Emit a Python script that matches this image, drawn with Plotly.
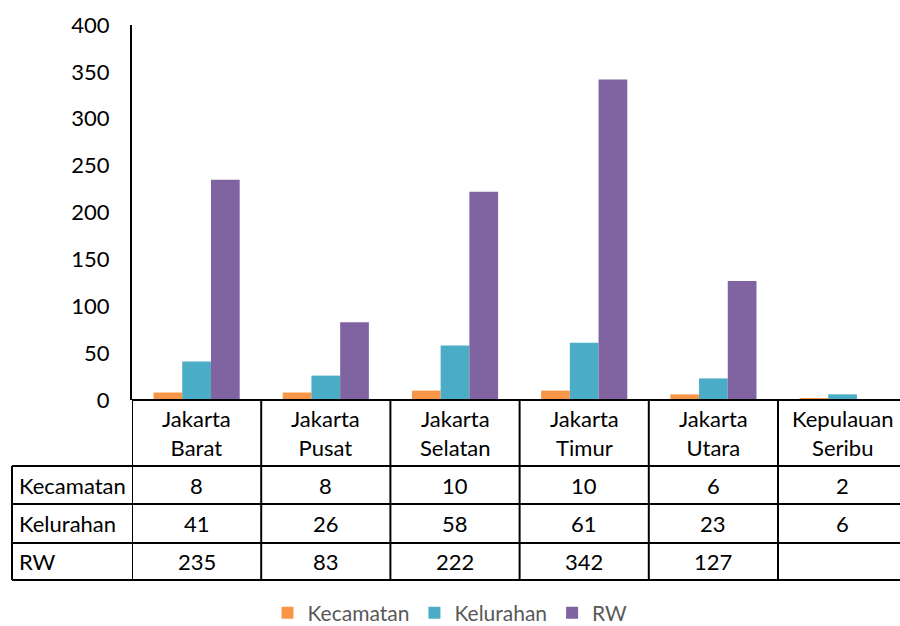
import plotly.graph_objects as go

# Administrative units of DKI Jakarta by city / regency
categories = ["Jakarta Barat", "Jakarta Pusat", "Jakarta Selatan",
              "Jakarta Timur", "Jakarta Utara", "Kepulauan Seribu"]
series_names = ["Kecamatan", "Kelurahan", "RW"]
kecamatan = [8, 8, 10, 10, 6, 2]
kelurahan = [41, 26, 58, 61, 23, 6]
rw = [235, 83, 222, 342, 127, None]
y_ticks = [0, 50, 100, 150, 200, 250, 300, 350, 400]

colors = ["#F79646", "#4BACC6", "#8064A2"]
FONT = "Lato"
FS = 22
W, H = 900, 626


def px_x(p):
    return p / W


def px_y(p):
    return 1 - p / H


xs = list(range(len(categories)))
fig = go.Figure()
for name, vals, col in zip(series_names, [kecamatan, kelurahan, rw], colors):
    fig.add_trace(go.Bar(x=xs, y=vals, name=name, marker_color=col,
                         marker_line_width=0))

# plot area: left edge 132px, top 25px, baseline 400px; right side runs off the page
col_px = 129.2
x_lo = -0.5
x_hi = x_lo + (W - 132) / col_px

fig.update_layout(
    width=W, height=H,
    margin=dict(l=0, r=0, t=0, b=0, autoexpand=False),
    paper_bgcolor="white", plot_bgcolor="white",
    barmode="group", bargap=0.333, bargroupgap=0,
    font=dict(family=FONT, size=FS, color="black"),
    showlegend=True,
    legend=dict(orientation="h", x=0.5, xanchor="center",
                yref="container", y=px_y(613), yanchor="middle",
                font=dict(family=FONT, size=21, color="#595959"),
                itemwidth=30, tracegroupgap=0),
    xaxis=dict(domain=[px_x(132), 1], range=[x_lo, x_hi],
               showticklabels=False, showgrid=False, zeroline=False,
               showline=False, ticks=""),
    yaxis=dict(domain=[px_y(400), px_y(25)], range=[0, 400],
               tickvals=y_ticks, ticktext=[str(v) for v in y_ticks],
               showgrid=False, zeroline=False, ticks="",
               showline=True, linecolor="black", linewidth=2,
               ticklabelstandoff=16,
               tickfont=dict(family=FONT, size=FS, color="black")),
)

# data table under the chart
line = dict(color="black", width=2)
shapes = []
row_edges = [400, 466, 504, 543, 580]
right = len(categories) - 0.5
for i, py in enumerate(row_edges):
    if i > 0:
        shapes.append(dict(type="line", xref="paper", yref="paper",
                           x0=px_x(12), x1=px_x(132), y0=px_y(py), y1=px_y(py), line=line))
    shapes.append(dict(type="line", xref="x", yref="paper",
                       x0=-0.5, x1=right, y0=px_y(py), y1=px_y(py), line=line))
shapes.append(dict(type="line", xref="paper", yref="paper",
                   x0=px_x(12), x1=px_x(12), y0=px_y(466), y1=px_y(580), line=line))
for k in range(len(categories) + 1):
    shapes.append(dict(type="line", xref="x", yref="paper",
                       x0=k - 0.5, x1=k - 0.5, y0=px_y(400), y1=px_y(580), line=line))
fig.update_layout(shapes=shapes)

annotations = []
for i, cat in enumerate(categories):
    a, b = cat.split(" ", 1)
    annotations.append(dict(x=i, xref="x", y=px_y(433), yref="paper",
                            text=a + "<br>" + b, showarrow=False,
                            font=dict(family=FONT, size=FS, color="black"),
                            align="center", xanchor="center", yanchor="middle"))

row_centers = [485, 523, 561]
for name, vals, cy in zip(series_names, [kecamatan, kelurahan, rw], row_centers):
    annotations.append(dict(x=px_x(17), xref="paper", y=px_y(cy), yref="paper",
                            text=name, showarrow=False, xanchor="left", yanchor="middle",
                            font=dict(family=FONT, size=FS, color="black")))
    for i, v in enumerate(vals):
        if v is None:
            continue
        annotations.append(dict(x=i, xref="x", y=px_y(cy), yref="paper",
                                text=str(v), showarrow=False,
                                xanchor="center", yanchor="middle",
                                font=dict(family=FONT, size=FS, color="black")))
fig.update_layout(annotations=annotations)

fig.write_html("out.html")
